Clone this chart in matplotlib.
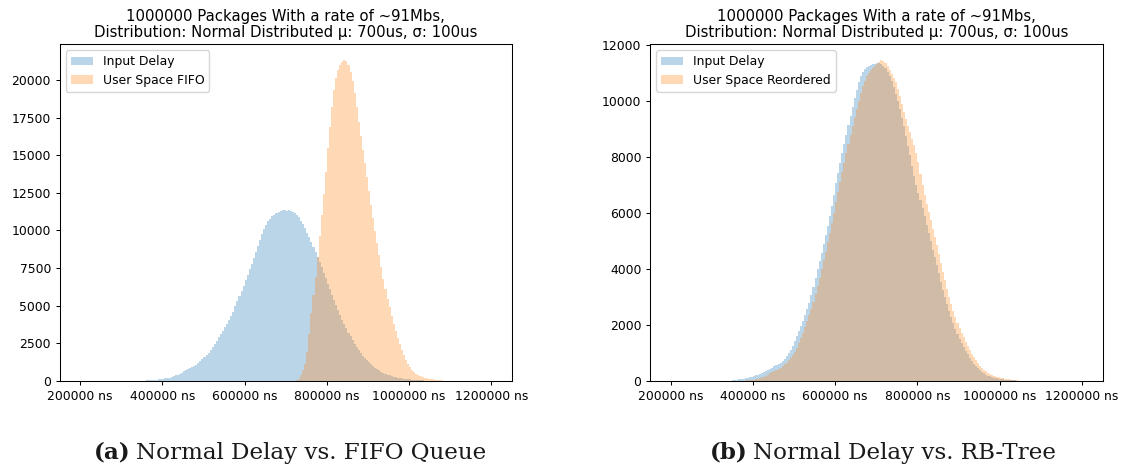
import numpy as np
import matplotlib
matplotlib.use("Agg")
import matplotlib.pyplot as plt
from matplotlib.ticker import FuncFormatter

# ---------------- data (bin heights, 5000 ns bins) ----------------
bin_width = 5000

fifo_input_start = 330000
fifo_input_counts = [
    8, 12, 16, 20, 25, 30, 36, 42, 50, 60, 72, 86, 102, 120, 142, 168, 198, 232, 272, 318,
    370, 428, 492, 562, 636, 712, 790, 860, 930, 1000, 1090, 1200, 1320, 1450, 1580, 1720, 1880, 2060, 2250, 2460,
    2680, 2900, 3120, 3350, 3570, 3800, 4030, 4300, 4600, 4950, 5300, 5650, 5990, 6330, 6680, 7050, 7420, 7800, 8200, 8600,
    9000, 9380, 9750, 10080, 10350, 10600, 10780, 10930, 11050, 11150, 11230, 11290, 11330, 11350, 11320, 11340, 11300, 11250, 11190, 11050,
    10880, 10650, 10420, 10150, 9850, 9560, 9250, 8930, 8600, 8250, 7900, 7550, 7180, 6820, 6450, 6080, 5720, 5370, 5020, 4700,
    4390, 4080, 3790, 3500, 3220, 2960, 2720, 2480, 2270, 2060, 1870, 1690, 1530, 1380, 1240, 1110, 990, 880, 790, 700,
    620, 550, 490, 430, 380, 335, 295, 260, 228, 200, 175, 152, 132, 115, 100, 86, 74, 63, 53, 44,
    36, 30, 24, 19, 15, 11, 8, 6, 4, 2,
]

fifo_user_start = 725000
fifo_user_counts = [
    40, 160, 380, 720, 1150, 1900, 3100, 4500, 5700, 6900, 8250, 9600, 11000, 12400, 13900, 15500, 16900, 18200, 19300, 20100,
    20650, 21000, 21200, 21300, 21250, 21000, 20550, 19900, 19100, 18200, 17200, 16300, 15350, 14450, 13550, 12650, 11700, 10800, 9950, 9150,
    8350, 7550, 6800, 6100, 5450, 4900, 4350, 3800, 3300, 2850, 2450, 2050, 1700, 1400, 1130, 900, 720, 580, 470, 380,
    310, 255, 210, 175, 145, 120, 100, 82, 66, 52, 40, 30, 22, 15, 10, 6, 3,
]

rb_input_start = 350000
rb_input_counts = [
    30, 38, 46, 56, 68, 80, 92, 105, 125, 150, 175, 200, 230, 260, 295, 330, 365, 400, 440, 480,
    520, 560, 610, 660, 720, 800, 890, 990, 1110, 1260, 1430, 1620, 1800, 1970, 2140, 2340, 2560, 2800, 3070, 3370,
    3680, 3980, 4280, 4580, 4880, 5200, 5530, 5870, 6250, 6650, 7050, 7430, 7790, 8130, 8450, 8780, 9120, 9460, 9790, 10100,
    10380, 10650, 10880, 11020, 11120, 11200, 11240, 11270, 11300, 11320, 11350, 11360, 11320, 11250, 11150, 11020, 10880, 10700, 10480, 10250,
    9980, 9690, 9400, 9080, 8750, 8400, 8050, 7680, 7320, 6980, 6700, 6440, 6170, 5890, 5580, 5280, 4980, 4690, 4420, 4140,
    3840, 3540, 3260, 2990, 2740, 2500, 2270, 2060, 1860, 1680, 1510, 1360, 1220, 1080, 950, 830, 720, 620, 530, 450,
    380, 320, 270, 230, 195, 165, 140, 118, 100, 85, 72, 61, 52, 44, 36, 29, 23, 18, 13, 9,
    6, 3,
]

rb_user_start = 370000
rb_user_counts = [
    10, 15, 20, 26, 33, 42, 52, 65, 80, 100, 125, 155, 190, 230, 270, 310, 350, 390, 430, 480,
    530, 590, 660, 740, 830, 930, 1050, 1190, 1350, 1530, 1720, 1920, 2130, 2350, 2580, 2830, 3100, 3380, 3680, 3990,
    4300, 4620, 4950, 5290, 5640, 6000, 6370, 6740, 7100, 7450, 7790, 8120, 8450, 8780, 9100, 9420, 9720, 10000, 10270, 10520,
    10720, 10880, 11000, 11100, 11180, 11250, 11310, 11380, 11440, 11420, 11350, 11240, 11100, 10960, 10820, 10650, 10420, 10150, 9880, 9600,
    9340, 9100, 8880, 8650, 8420, 8150, 7800, 7400, 7000, 6650, 6330, 6030, 5740, 5440, 5150, 4850, 4540, 4220, 3900, 3590,
    3290, 3000, 2740, 2500, 2280, 2080, 1890, 1720, 1560, 1400, 1250, 1110, 980, 850, 740, 640, 550, 470, 400, 340,
    290, 245, 210, 180, 155, 132, 112, 96, 82, 70, 58, 47, 38, 30, 23, 17, 12, 8, 5, 3,
]

x_ticks = [200000, 400000, 600000, 800000, 1000000, 1200000]
x_range = (150000, 1250000)

title_text = "1000000 Packages With a rate of ~91Mbs,\nDistribution: Normal Distributed \u03bc: 700us, \u03c3: 100us"
left_labels = ["Input Delay", "User Space FIFO"]
right_labels = ["Input Delay", "User Space Reordered"]
caption_tags = ["(a)", "(b)"]
caption_texts = ["Normal Delay vs. FIFO Queue", "Normal Delay vs. RB-Tree"]

# ---------------- figure ----------------
W, H = 1124, 471
fig = plt.figure(figsize=(W / 100, H / 100), dpi=100)

TICK_FS = 8.9
TITLE_FS = 10.7
LEG_FS = 8.9
LW = 0.75


def edges_for(start, counts):
    return start + bin_width * np.arange(len(counts) + 1)


def draw(ax, series, labels):
    for (start, counts), lab, col in zip(series, labels, ["C0", "C1"]):
        ax.stairs(counts, edges_for(start, counts), fill=True, color=col,
                  alpha=0.3, linewidth=0, label=lab)
    ax.set_xlim(*x_range)
    ax.set_ylim(bottom=0)
    ax.set_xticks(x_ticks)
    ax.xaxis.set_major_formatter(FuncFormatter(lambda v, p: f"{int(v)} ns"))
    ax.tick_params(labelsize=TICK_FS, width=LW, length=3.2, pad=3)
    for s in ax.spines.values():
        s.set_linewidth(LW)
    ax.set_title(title_text, fontsize=TITLE_FS, pad=5, linespacing=1.15)
    ax.legend(loc="upper left", fontsize=LEG_FS, handlelength=1.8,
              borderpad=0.4, labelspacing=0.45, framealpha=0.8)


ax1 = fig.add_axes([59.5 / W, 1 - 381 / H, (512 - 59.5) / W, (381 - 44.3) / H])
draw(ax1, [(fifo_input_start, fifo_input_counts), (fifo_user_start, fifo_user_counts)], left_labels)

ax2 = fig.add_axes([650 / W, 1 - 381 / H, (1102.5 - 650) / W, (381 - 44.3) / H])
draw(ax2, [(rb_input_start, rb_input_counts), (rb_user_start, rb_user_counts)], right_labels)

# captions: bold serif tag followed by regular serif text, centred under each panel
CAP_FS = 16.6
CAP_Y = 1 - 453 / H
renderer = fig.canvas.get_renderer()
for cx_px, tag, txt in zip([290, 883], caption_tags, caption_texts):
    t_tag = fig.text(0, CAP_Y, tag, ha="left", va="center", fontsize=CAP_FS,
                     family="DejaVu Serif", weight="bold", color="#1a1a1a")
    t_txt = fig.text(0, CAP_Y, txt, ha="left", va="center", fontsize=CAP_FS,
                     family="DejaVu Serif", color="#1a1a1a")
    w_tag = t_tag.get_window_extent(renderer).width
    w_txt = t_txt.get_window_extent(renderer).width
    gap = CAP_FS * 0.3
    total = w_tag + gap + w_txt
    x0 = cx_px - total / 2
    t_tag.set_x(x0 / W)
    t_txt.set_x((x0 + w_tag + gap) / W)

fig.savefig("out.png", dpi=100)
